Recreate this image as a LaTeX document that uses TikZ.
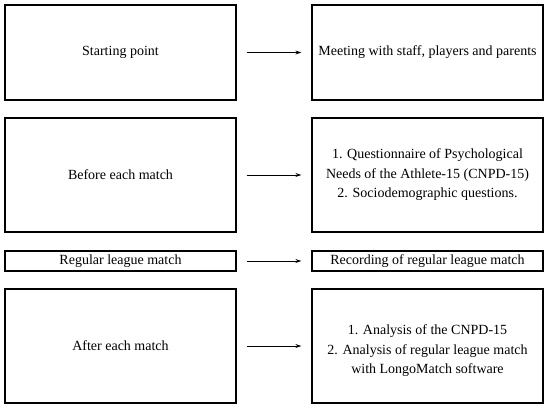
\documentclass[tikz,border=0pt]{standalone}
\usepackage{fontspec}
\setmainfont{Liberation Serif}
\usetikzlibrary{arrows.meta}

\begin{document}
\begin{tikzpicture}[->,>={Stealth[length=6pt,width=4pt]},x=1pt,y=-1pt,
  stage/.style={draw,line width=1.2pt,minimum width=231pt,inner sep=0pt,align=center,font=\fontsize{14}{19.5}\selectfont},
  task/.style={stage}]

\useasboundingbox (0,0) rectangle (550,409);

\node[stage,minimum height=95pt](s1) at (120.5,52.5){Starting point};
\node[task,minimum height=95pt](t1) at (427.5,52.5){Meeting with staff, players and parents};
\node[stage,minimum height=114pt](s2) at (120.5,175){Before each match};
\node[task,minimum height=114pt](t2) at (427.5,175){1. Questionnaire of Psychological\\Needs of the Athlete-15 (CNPD-15)\\2. Sociodemographic questions.};
\node[stage,minimum height=20pt](s3) at (120.5,261){Regular league match};
\node[task,minimum height=20pt](t3) at (427.5,261){Recording of regular league match};
\node[stage,minimum height=114pt](s4) at (120.5,346){After each match};
\node[task,minimum height=114pt](t4) at (427.5,346){\mbox{}\\1. Analysis of the CNPD-15\\2. Analysis of regular league match\\with LongoMatch software};

\path[line width=0.9pt,shorten <=10pt,shorten >=10pt]
     (s1)edge(t1)
     (s2)edge(t2)
     (s3)edge(t3)
     (s4)edge(t4)
     ;

\end{tikzpicture}
\end{document}
